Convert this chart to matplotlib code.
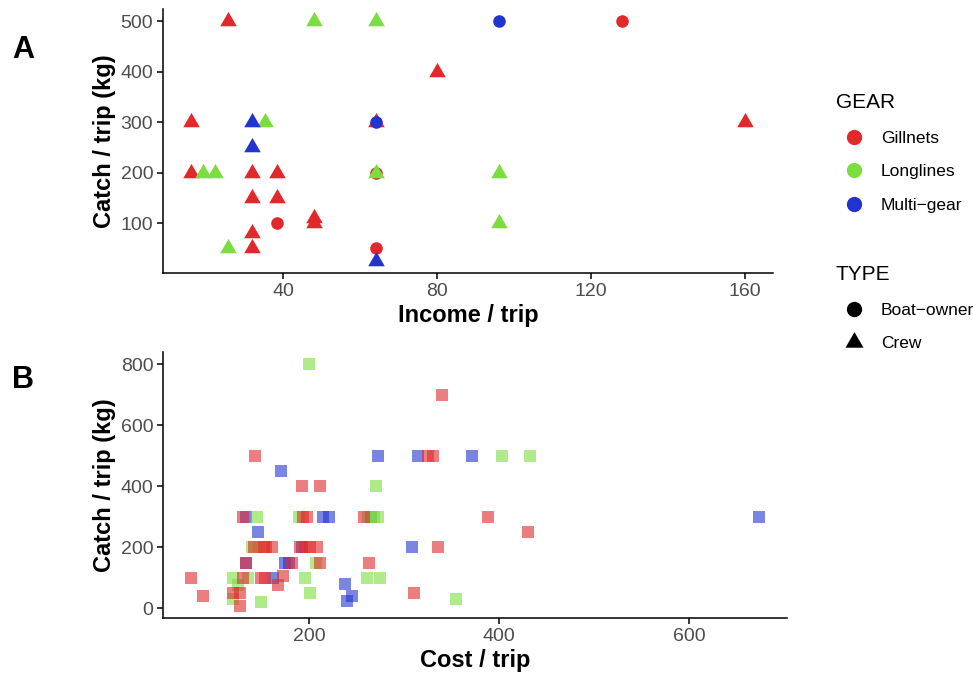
import matplotlib
matplotlib.use("Agg")
import matplotlib.pyplot as plt
import numpy as np
from matplotlib.lines import Line2D
from matplotlib.path import Path

plt.rcParams['font.family'] = ['Liberation Sans', 'DejaVu Sans']

# Panel A: income vs catch, by gear and respondent type
a_gear = ["Gillnets"] * 14 + ["Gillnets"] * 4 + ["Longlines"] * 9 + ["Multi-gear"] * 3 + ["Multi-gear"] * 2
a_type = ["Crew"] * 14 + ["Boat-owner"] * 4 + ["Crew"] * 9 + ["Crew"] * 3 + ["Boat-owner"] * 2
a_income = [25.6, 80, 16, 64, 160, 16, 32, 38.4, 32, 38.4, 48, 48, 32, 32,
            128, 64, 38.4, 64,
            48, 64, 35.2, 19.2, 22.4, 64, 96, 96, 25.6,
            32, 32, 64,
            96, 64]
a_catch = [500, 400, 300, 300, 300, 200, 200, 200, 150, 150, 110, 100, 80, 50,
           500, 200, 100, 50,
           500, 500, 300, 200, 200, 200, 200, 100, 50,
           300, 250, 25,
           500, 300]

# Panel B: cost vs catch, by gear
b_red_cost = [340, 143, 325, 330, 192, 211, 388, 430, 130, 193, 198, 258, 336,
              142, 152, 155, 161, 190, 196, 201, 208,
              133, 182, 211, 263, 76, 130, 149, 153, 172, 167,
              88, 120, 127, 310, 127]
b_red_catch = [700, 500, 500, 500, 400, 400, 300, 250, 300, 300, 300, 300, 200,
               200, 200, 200, 200, 200, 200, 200, 200,
               150, 150, 150, 150, 100, 100, 100, 100, 107, 78,
               40, 50, 50, 50, 8]
b_green_cost = [200, 403, 432, 270, 145, 189, 262, 268, 272, 140, 147, 207,
                120, 136, 196, 261, 275, 125, 201, 355, 120, 149]
b_green_catch = [800, 500, 500, 400, 300, 300, 300, 300, 300, 200, 200, 150,
                 100, 100, 100, 100, 100, 75, 50, 30, 30, 20]
b_blue_cost = [272, 315, 371, 673, 170, 134, 215, 221, 265, 146, 192, 308,
               133, 175, 179, 162, 238, 245, 240]
b_blue_catch = [500, 500, 500, 300, 450, 300, 300, 300, 300, 250, 200, 200,
                150, 150, 150, 100, 80, 40, 25]

gear_names = ["Gillnets", "Longlines", "Multi-gear"]
gear_labels = ["Gillnets", "Longlines", "Multi\u2212gear"]
gear_colors = {"Gillnets": "#E1292B", "Longlines": "#7BDE3E", "Multi-gear": "#2234CF"}
type_names = ["Boat-owner", "Crew"]
type_labels = ["Boat\u2212owner", "Crew"]

# equilateral triangle like ggplot's shape 17
tri = Path([(-1, -0.577), (1, -0.577), (0, 1.155), (-1, -0.577)],
           [Path.MOVETO, Path.LINETO, Path.LINETO, Path.CLOSEPOLY])
type_markers = {"Boat-owner": "o", "Crew": tri}
type_sizes = {"Boat-owner": 82, "Crew": 190}

tick_col = "#4D4D4D"


def expand(vals, frac=0.05):
    lo, hi = min(vals), max(vals)
    pad = (hi - lo) * frac
    return lo - pad, hi + pad


def style_axes(ax):
    for s in ["top", "right"]:
        ax.spines[s].set_visible(False)
    for s in ["left", "bottom"]:
        ax.spines[s].set_linewidth(1.1)
    ax.tick_params(axis="both", length=4, width=1.1, color="black",
                   labelsize=14, labelcolor=tick_col, pad=3)


fig = plt.figure(figsize=(9.73, 6.78), dpi=100)

# ---- panel A
axA = fig.add_axes([163 / 973, 1 - 273 / 678, 610 / 973, 264 / 678])
a_income = np.array(a_income)
a_catch = np.array(a_catch)
a_gear_arr = np.array(a_gear)
a_type_arr = np.array(a_type)
# draw groups in data order so overlaps stack like the original
groups = []
for g, t in zip(a_gear, a_type):
    if (g, t) not in groups:
        groups.append((g, t))
for g, t in groups:
    m = (a_gear_arr == g) & (a_type_arr == t)
    axA.scatter(a_income[m], a_catch[m], s=type_sizes[t], marker=type_markers[t],
                color=gear_colors[g], linewidths=0)
axA.set_xlim(*expand(a_income))
axA.set_ylim(*expand(a_catch))
axA.set_xticks([40, 80, 120, 160])
axA.set_yticks([100, 200, 300, 400, 500])
style_axes(axA)
axA.set_xlabel("Income / trip", fontsize=17, fontweight="bold", labelpad=3)
axA.set_ylabel("Catch / trip (kg)", fontsize=17, fontweight="bold", labelpad=3)

# ---- panel B
axB = fig.add_axes([163 / 973, 1 - 618 / 678, 624 / 973, 266 / 678])
for cost, catch, g in [(b_blue_cost, b_blue_catch, "Multi-gear"),
                       (b_green_cost, b_green_catch, "Longlines"),
                       (b_red_cost, b_red_catch, "Gillnets")]:
    axB.scatter(cost, catch, s=80, marker="s", color=gear_colors[g],
                alpha=0.6, linewidths=0)
allc = b_red_cost + b_green_cost + b_blue_cost
allk = b_red_catch + b_green_catch + b_blue_catch
axB.set_xlim(*expand(allc))
axB.set_ylim(*expand(allk))
axB.set_xticks([200, 400, 600])
axB.set_yticks([0, 200, 400, 600, 800])
style_axes(axB)
axB.set_xlabel("Cost / trip", fontsize=17, fontweight="bold", labelpad=3)
axB.set_ylabel("Catch / trip (kg)", fontsize=17, fontweight="bold", labelpad=3)

# panel letters
fig.text(23 / 973, 1 - 50 / 678, "A", fontsize=22, fontweight="bold", ha="center", va="center")
fig.text(23 / 973, 1 - 380 / 678, "B", fontsize=22, fontweight="bold", ha="center", va="center")

# ---- legends
gear_handles = [Line2D([], [], linestyle="none", marker="o", markersize=11,
                       markerfacecolor=gear_colors[g], markeredgewidth=0)
                for g in gear_names]
type_handles = [Line2D([], [], linestyle="none", marker=type_markers[t],
                       markersize=11 if t == "Boat-owner" else 15,
                       markerfacecolor="black", markeredgewidth=0)
                for t in type_names]
leg_kw = dict(loc="upper left", frameon=False, fontsize=12.5, title_fontsize=15,
              alignment="left", labelspacing=1.07, handletextpad=0.5,
              handlelength=2.1, borderaxespad=0)
leg1 = fig.legend(gear_handles, gear_labels, title="GEAR",
                  bbox_to_anchor=(829 / 973, 1 - 86 / 678), **leg_kw)
leg2 = fig.legend(type_handles, type_labels, title="TYPE",
                  bbox_to_anchor=(829 / 973, 1 - 258 / 678), **leg_kw)

fig.savefig("out.png", dpi=100)
